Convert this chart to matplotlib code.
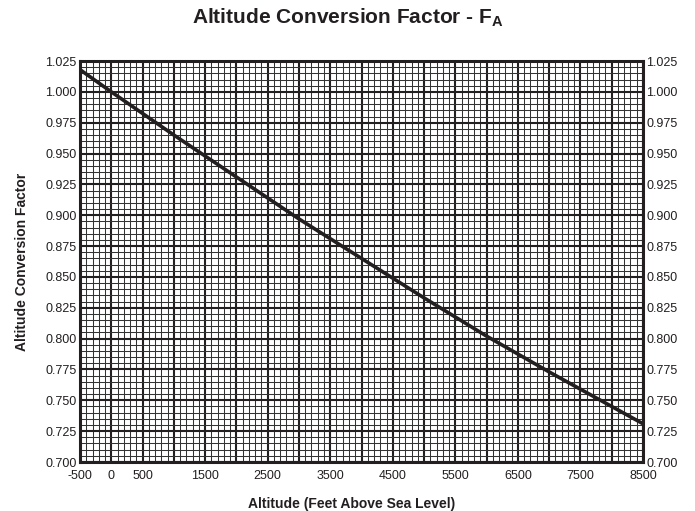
import numpy as np
import matplotlib
matplotlib.use("Agg")
import matplotlib.pyplot as plt

plt.rcParams['font.family'] = ['Liberation Sans', 'DejaVu Sans']
plt.rcParams['mathtext.default'] = 'regular'
plt.rcParams['axes.unicode_minus'] = False

# altitude (ft) vs altitude conversion factor
altitude = [-500, 0, 1000, 2000, 3000, 4000, 5000, 6000, 7000, 8000, 8500]
factor = [1.018, 1.000, 0.965, 0.931, 0.897, 0.865, 0.833, 0.802, 0.773, 0.745, 0.731]

x_ticks = [-500, 0, 500, 1500, 2500, 3500, 4500, 5500, 6500, 7500, 8500]
y_ticks = [0.700, 0.725, 0.750, 0.775, 0.800, 0.825, 0.850, 0.875,
           0.900, 0.925, 0.950, 0.975, 1.000, 1.025]

W, H = 695, 511
fig = plt.figure(figsize=(W / 100, H / 100), dpi=100)
# axes box in pixels: left 80, right 643, top 61, bottom 462
ax = fig.add_axes([80 / W, 1 - 462 / H, (643 - 80) / W, (462 - 61) / H])

ink = '#231f20'
ax.plot(altitude, factor, color=ink, lw=2.6, zorder=5,
        solid_capstyle='butt', solid_joinstyle='round')

ax.set_xlim(-500, 8500)
ax.set_ylim(0.700, 1.025)

# graph-paper grid: 100 ft / 0.005 minor, 500 ft / 0.025 major
for x in np.arange(-500, 8501, 100):
    major = (x % 500 == 0)
    ax.axvline(x, color=ink if major else '#333333',
               lw=1.5 if major else 0.75, zorder=1)
for i in range(66):
    y = 0.700 + i * 0.005
    major = (i % 5 == 0)
    ax.axhline(y, color=ink if major else '#333333',
               lw=1.5 if major else 0.75, zorder=1)

ax.set_xticks(x_ticks)
ax.set_xticklabels([str(v) for v in x_ticks])
ax.set_yticks(y_ticks)
ax.set_yticklabels([f"{v:.3f}" for v in y_ticks])
ax.tick_params(axis='both', length=0, labelsize=9, colors=ink)
ax.tick_params(axis='x', pad=5.5)
ax.tick_params(axis='y', pad=2.5, labelright=True)

for s in ax.spines.values():
    s.set_linewidth(2.2)
    s.set_color(ink)
    s.set_zorder(6)

fig.text(352 / W, 1 - 504 / H, "Altitude (Feet Above Sea Level)", ha='center', va='center',
         fontsize=10, fontweight='bold', color=ink)
fig.text(22 / W, 1 - 262 / H, "Altitude Conversion Factor", ha='center', va='center',
         rotation=90, fontsize=10, fontweight='bold', color=ink)
fig.text(0.5, 1 - 18 / H, "Altitude Conversion Factor - F$_\\mathregular{A}$",
         ha='center', va='center', fontsize=15, fontweight='bold', color=ink)

fig.savefig("out.png", dpi=100)
